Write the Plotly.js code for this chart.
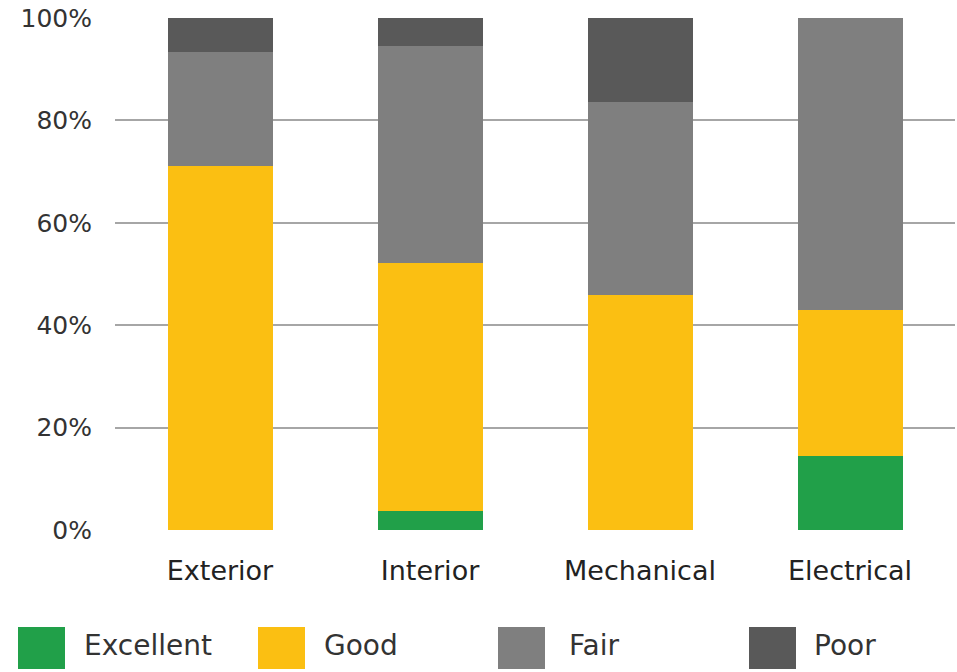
<!DOCTYPE html>
<html><head><meta charset="utf-8">
<script src="https://cdn.plot.ly/plotly-3.0.1.min.js"></script>
<style>html,body{margin:0;padding:0;background:#fff}#c{width:957px;height:672px}</style>
</head><body><div id="c"></div>
<script>
const categories = ["Exterior", "Interior", "Mechanical", "Electrical"];
const seriesNames = ["Excellent", "Good", "Fair", "Poor"];
const excellent = [0, 3.8, 0, 14.5];
const good = [71.0, 48.3, 45.9, 28.5];
const fair = [22.3, 42.5, 37.6, 57.0];
const poor = [6.7, 5.4, 16.5, 0];
const colors = ["#21a049", "#fbbf12", "#7f7f7f", "#595959"];
const yTicks = [0, 20, 40, 60, 80, 100];
const yTickText = ["0%", "20%", "40%", "60%", "80%", "100%"];

const values = [excellent, good, fair, poor];
const FONT = "'DejaVu Sans', sans-serif";
const traces = seriesNames.map((n, i) => ({
  type: "bar", name: n, x: categories, y: values[i],
  marker: {color: colors[i], line: {width: 0}},
  showlegend: false, hoverinfo: "skip"
}));

// plot geometry (pixels)
const L = 115, R = 2, T = 18, B = 142, W = 957, H = 672;
const pw = W - L - R, ph = H - T - B;
const px2x = p => (p - L) / pw;
const py2y = p => (H - B - p) / ph;
const swatchX = [18, 258, 498, 749];
const textX = [85, 325, 570, 815];
const shapes = [], annotations = [];
seriesNames.forEach((n, i) => {
  shapes.push({type: "rect", xref: "paper", yref: "paper",
    x0: px2x(swatchX[i]), x1: px2x(swatchX[i] + 47),
    y0: py2y(669), y1: py2y(627),
    fillcolor: colors[i], line: {width: 0}});
  annotations.push({xref: "paper", yref: "paper", x: px2x(textX[i] - 3), y: py2y(645),
    xanchor: "left", yanchor: "middle", text: n, showarrow: false,
    font: {family: FONT, size: 28, color: "#333333"}});
});

const layout = {
  width: W, height: H,
  margin: {l: L, r: R, t: T, b: B, pad: 0},
  paper_bgcolor: "#ffffff", plot_bgcolor: "#ffffff",
  barmode: "stack", bargap: 0.5,
  font: {family: FONT, color: "#333333"},
  xaxis: {type: "category", showgrid: false, zeroline: false, showline: false,
    ticks: "", ticklabelstandoff: 22, tickfont: {family: FONT, size: 27, color: "#222222"}},
  yaxis: {range: [0, 100], tickvals: yTicks, ticktext: yTickText,
    showgrid: true, gridcolor: "#a6a6a6", gridwidth: 2, zeroline: false, showline: false,
    ticks: "", ticklabelstandoff: 22, tickfont: {family: FONT, size: 25, color: "#333333"}},
  shapes: shapes, annotations: annotations, showlegend: false
};
Plotly.newPlot("c", traces, layout, {displayModeBar: false, staticPlot: true});
</script></body></html>
